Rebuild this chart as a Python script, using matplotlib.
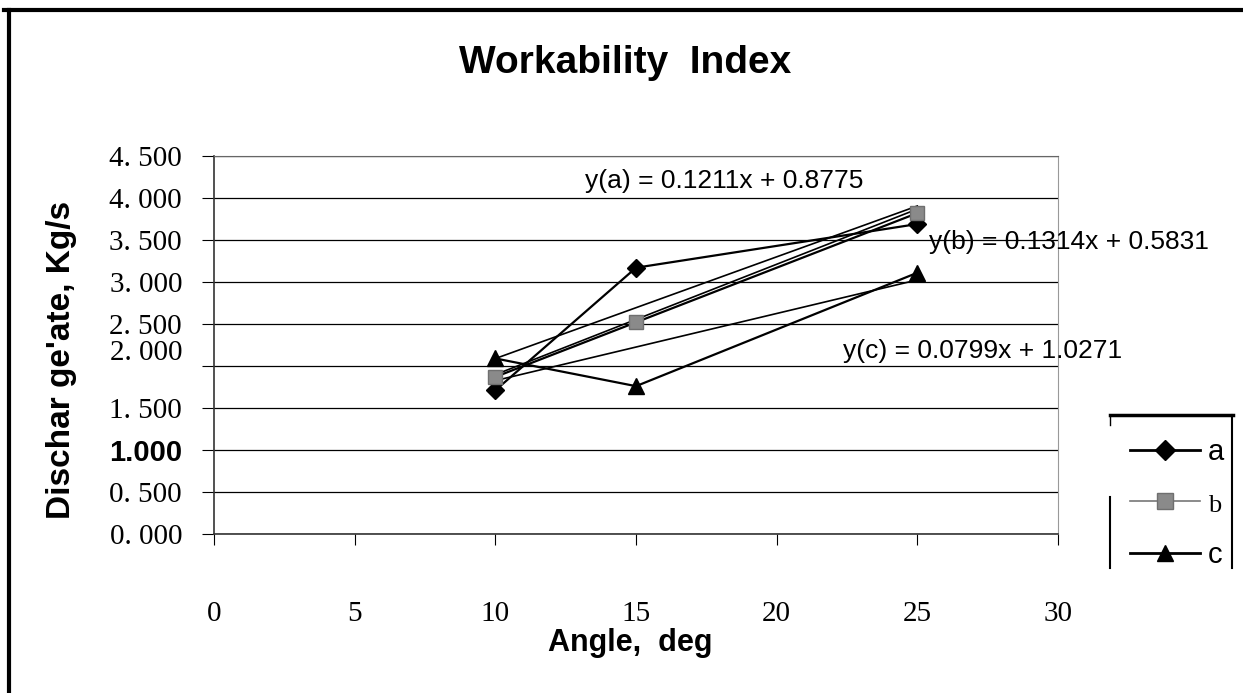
import numpy as np
import matplotlib.pyplot as plt
from matplotlib.lines import Line2D
from matplotlib.transforms import blended_transform_factory

# chart data
angles = [10, 15, 25]
series_a = [1.71, 3.17, 3.69]
series_b = [1.87, 2.52, 3.82]
series_c = [2.09, 1.76, 3.11]
series_names = ["a", "b", "c"]

# trendline coefficients as printed on the chart
slopes = [0.1211, 0.1314, 0.0799]
intercepts = [0.8775, 0.5831, 1.0271]
trend_x = [10, 25]

x_ticks = [0, 5, 10, 15, 20, 25, 30]
y_ticks = [0.0, 0.5, 1.0, 1.5, 2.0, 2.5, 3.0, 3.5, 4.0, 4.5]
y_tick_labels = ["0. 000", "0. 500", "1.000", "1. 500", "", "2. 500",
                 "3. 000", "3. 500", "4. 000", "4. 500"]

SERIF = "Liberation Serif"
SANS = "Liberation Sans"

W, H = 1243, 693
fig = plt.figure(figsize=(W / 100, H / 100), dpi=100)
ax = fig.add_axes([214 / W, 1 - 534 / H, (1058 - 214) / W, (534 - 156) / H])

# data series
ax.plot(angles, series_a, color="black", lw=1.6, marker="D", ms=9,
        mfc="black", mec="black", zorder=4)
ax.plot(angles, series_b, color="black", lw=1.6, marker="s", ms=10,
        mfc="#8a8a8a", mec="#6f6f6f", zorder=4)
ax.plot(angles, series_c, color="black", lw=1.6, marker="^", ms=11,
        mfc="black", mec="black", zorder=4)

# linear trendlines
for m, b0 in zip(slopes, intercepts):
    tx = np.array(trend_x, dtype=float)
    ax.plot(tx, m * tx + b0, color="black", lw=1.2, zorder=3)

ax.set_xlim(0, 30)
ax.set_ylim(0, 4.5)
ax.set_xticks(x_ticks)
ax.set_xticklabels([str(v) for v in x_ticks], fontfamily=SERIF, fontsize=21)
ax.set_yticks(y_ticks)
ax.set_yticklabels(y_tick_labels, fontfamily=SERIF, fontsize=21)
for lab in ax.get_yticklabels():
    if lab.get_text() == "1.000":
        lab.set_fontfamily(SANS)
        lab.set_fontweight("bold")
        lab.set_fontsize(21)

# the "2. 000" label sits off its gridline in the original
trans = blended_transform_factory(ax.transAxes, ax.transData)
ax.text(-0.037, 2.16, "2. 000", transform=trans, ha="right", va="center",
        fontfamily=SERIF, fontsize=21)

ax.tick_params(axis="x", direction="out", length=8, width=0.8, pad=40)
ax.tick_params(axis="y", direction="out", length=9, width=0.8, pad=14)
ax.yaxis.grid(True, color="black", lw=0.9)
ax.set_axisbelow(True)
for side in ["left", "bottom"]:
    ax.spines[side].set_color("#333333")
    ax.spines[side].set_linewidth(1.2)
ax.spines["right"].set_color("#999999")
ax.spines["top"].set_color("#666666")

# equation labels
eq_style = dict(fontfamily=SANS, fontsize=19, va="center", ha="left", clip_on=False)
ax.text(13.19, 4.20, "y(a) = 0.1211x + 0.8775", **eq_style)
ax.text(25.40, 3.48, "y(b) = 0.1314x + 0.5831", **eq_style)
ax.text(22.37, 2.18, "y(c) = 0.0799x + 1.0271", **eq_style)

# titles
fig.text(625 / W, 1 - 63 / H, "Workability  Index", ha="center", va="center",
         fontfamily=SANS, fontweight="bold", fontsize=28)
fig.text(630 / W, 1 - 643 / H, "Angle,  deg", ha="center", va="center",
         fontfamily=SANS, fontweight="bold", fontsize=22)
fig.text(62 / W, 1 - 360 / H, "Dischar ge'ate, Kg/s", ha="center", va="center",
         rotation=90, fontfamily=SANS, fontweight="bold", fontsize=24)

# legend
handles = [
    Line2D([], [], color="black", lw=2, marker="D", ms=10, mfc="black", mec="black"),
    Line2D([], [], color="#777777", lw=1.2, marker="s", ms=11, mfc="#8a8a8a", mec="#6f6f6f"),
    Line2D([], [], color="black", lw=2, marker="^", ms=12, mfc="black", mec="black"),
]
leg = fig.legend(handles, series_names, loc="upper left",
                 bbox_to_anchor=(1110 / W, 1 - 418 / H), frameon=False,
                 handlelength=2.4, handletextpad=0.25, labelspacing=0.85,
                 borderpad=0.2, fontsize=21)
for t in leg.get_texts():
    t.set_fontfamily(SERIF if t.get_text() == "b" else SANS)
    if t.get_text() == "b":
        t.set_fontsize(19)

def fig_line(x0, y0, x1, y1, lw):
    fig.add_artist(Line2D([x0 / W, x1 / W], [1 - y0 / H, 1 - y1 / H],
                          transform=fig.transFigure, color="black", lw=lw))

# partial legend box
fig_line(1110, 415, 1233, 415, 2.5)
fig_line(1232, 415, 1232, 568, 1.5)
fig_line(1110, 415, 1110, 425, 1.0)
fig_line(1110, 497, 1110, 568, 1.5)

# outer frame (top and left only)
fig_line(4, 10, W, 10, 3.0)
fig_line(9, 10, 9, H, 3.0)

fig.savefig("out.png", dpi=100)
